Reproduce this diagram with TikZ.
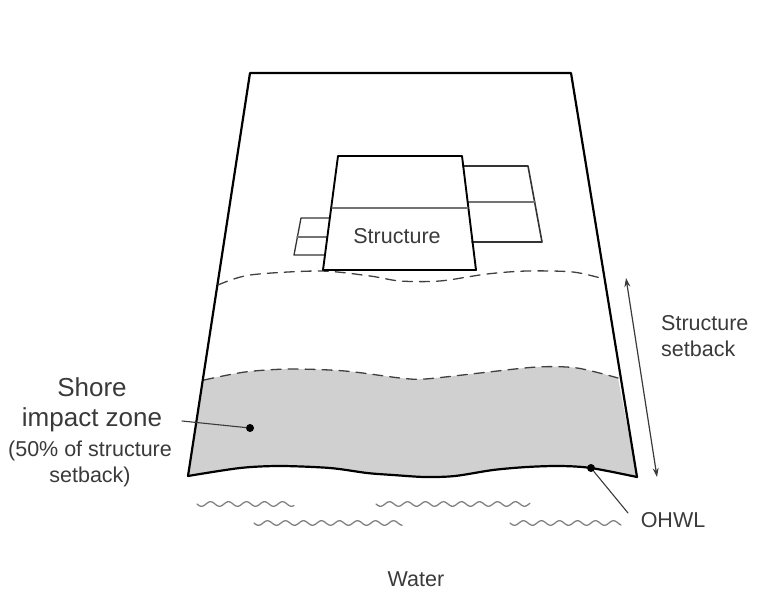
\documentclass[tikz,border=0pt]{standalone}
\usepackage{fontspec}
\usetikzlibrary{arrows.meta}
\setmainfont{Liberation Sans}
\definecolor{zonegray}{HTML}{D0D0D0}
\definecolor{inkgray}{HTML}{3A3A3A}
\tikzset{
	outline/.style={black,line width=2.2pt},
	bldg/.style={black!80,line width=1.6pt},
	thin line/.style={black!55,line width=1.2pt},
	setbackline/.style={black!75,line width=1.3pt,dash pattern=on 10pt off 7pt},
	wavy/.style={black!50,line width=1.3pt},
	leader/.style={inkgray,line width=1.1pt},
	label/.style={inkgray,align=center,inner sep=0pt,font=\fontsize{21.5}{26}\selectfont},
	bigdot/.style={circle,fill=black,inner sep=0pt,minimum size=8pt}
}
\begin{document}
\begin{tikzpicture}[x=1pt,y=-1pt,line join=round,line cap=round,>=stealth]
		\useasboundingbox (0,0) rectangle (762,601);
		% shore impact zone
		\fill[zonegray] plot[smooth] coordinates {(204,380) (245,372) (290,369) (345,371) (400,378) (425,379) (480,373) (537,367) (577,368) (618,378)}
			-- plot[smooth] coordinates {(637,477) (591,468) (560,466) (527,467) (493,470) (455,476) (425,477) (393,475) (367,473) (330,468) (280,466) (240,468) (188,476)} -- cycle;
		\draw[outline] plot[smooth] coordinates {(188,476) (240,468) (280,466) (330,468) (367,473) (393,475) (425,477) (455,476) (493,470) (527,467) (560,466) (591,468) (637,477)};
		% lot
		\draw[outline] (188,476)--(250,73)--(571,73)--(637,477);
		% setback lines
		\draw[setbackline] plot[smooth] coordinates {(218,285) (250,275) (320,271) (370,276) (400,281) (440,281) (487,274) (527,271) (573,272) (604,279)};
		\draw[setbackline] plot[smooth] coordinates {(204,380) (245,372) (290,369) (345,371) (400,378) (425,379) (480,373) (537,367) (577,368) (618,378)};
		% structure
		\draw[bldg] (463,166)--(528,166)--(542,242)--(472,242);
		\draw[thin line] (468,202)--(535,202);
		\draw[bldg,line width=1.3pt] (329,218)--(301,218)--(294,255)--(325,255);
		\draw[thin line] (297,237)--(327,237);
		\draw[outline,line width=1.9pt] (338,156)--(462,156)--(476,270)--(323,270)--cycle;
		\draw[thin line] (332,208)--(468,208);
		\node[label] (struct) at (397,236) {Structure};
		% water
		\foreach \xa/\xb/\ya in {197/294/504,376/530/504,254/402/523,510/621/523}
			\draw[wavy] plot[domain=\xa:\xb,samples=90] (\x,{\ya+2.3*sin(20*(\x-\xa))});
		% setback arrow
		\coordinate (arrowtop) at (626,278);
		\coordinate (arrowbot) at (657,477);
		\draw[{Stealth[length=9pt,width=6pt]}-{Stealth[length=9pt,width=6pt]},leader,line width=1.2pt] (arrowtop)--(arrowbot);
		% labels
		\node[label,anchor=west,align=left] (setback) at (661,336) {Structure\\setback};
		\node[label,font=\fontsize{26}{30}\selectfont] (shore) at (92,404.5) {Shore\\impact zone};
		\node[label] (fifty) at (90,464) {(50\% of structure\\setback)};
		\node[label] (ohwl) at (673,520) {OHWL};
		\node[label] (water) at (416,579) {Water};
		% leaders
		\node[bigdot] (zonedot) at (250,428) {};
		\node[bigdot] (ohwldot) at (591,468) {};
		\coordinate (zonestart) at (182,421);
		\coordinate (ohwlend) at (628,513);
		\draw[leader] (zonestart)--(zonedot);
		\draw[leader] (ohwldot)--(ohwlend);
\end{tikzpicture}
\end{document}
